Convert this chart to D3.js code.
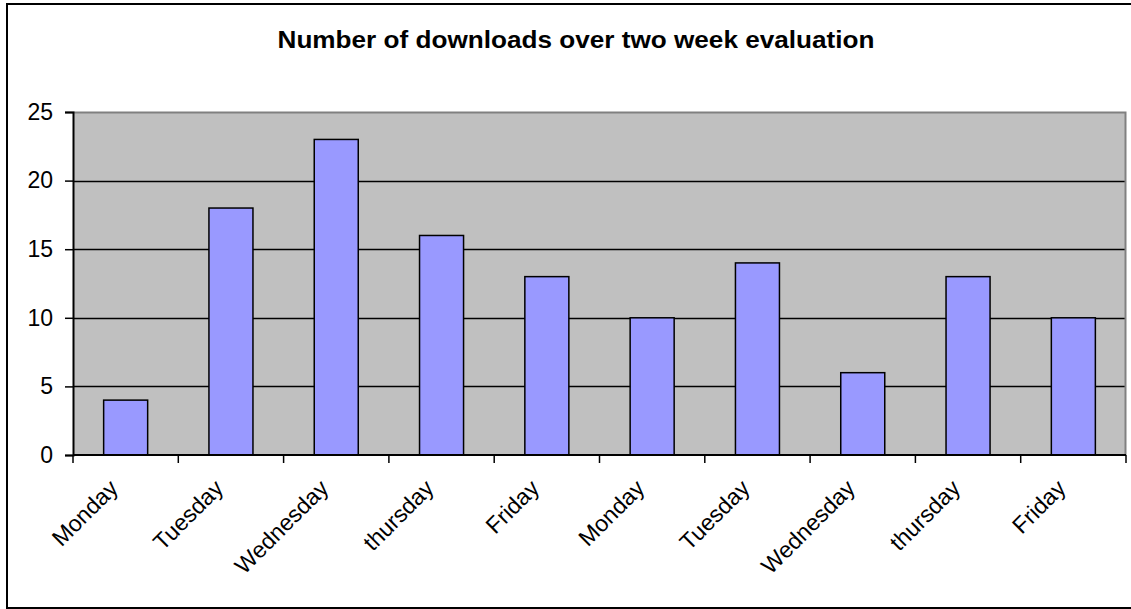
<!DOCTYPE html>
<html>
<head>
<meta charset="utf-8">
<script src="https://cdn.jsdelivr.net/npm/d3@7"></script>
<style>
  html, body { margin: 0; padding: 0; background: #fff; }
  svg { display: block; font-family: "Liberation Sans", Arial, sans-serif; }
</style>
</head>
<body>
<svg id="chart" width="1131" height="609"></svg>
<script>
// Daily download counts across the two-week evaluation
const days = ["Monday", "Tuesday", "Wednesday", "thursday", "Friday",
              "Monday", "Tuesday", "Wednesday", "thursday", "Friday"];
const downloads = [4, 18, 23, 16, 13, 10, 14, 6, 13, 10];
const yTicks = [0, 5, 10, 15, 20, 25];
const chartTitle = "Number of downloads over two week evaluation";

const svg = d3.select("#chart");
const plot = { left: 73, right: 1126, top: 112, bottom: 455 };
const labelSize = 23;

// Outer chart frame
svg.append("rect")
  .attr("x", 7).attr("y", 4)
  .attr("width", 1130).attr("height", 604)
  .attr("fill", "#fff").attr("stroke", "#000").attr("stroke-width", 2);

// Category positions: each day gets an equal slot; ticks fall on slot edges
const idx = days.map((d, i) => i);
const x = d3.scaleBand().domain(idx).range([plot.left, plot.right]).padding(0);
const y = d3.scaleLinear().domain([0, 25]).range([plot.bottom, plot.top]);

// Plot area background
svg.append("rect")
  .attr("x", plot.left).attr("y", plot.top)
  .attr("width", plot.right - plot.left).attr("height", plot.bottom - plot.top)
  .attr("fill", "#C0C0C0");

// Horizontal gridlines
svg.append("g")
  .selectAll("line")
  .data(yTicks.filter(t => t > 0 && t < 25))
  .join("line")
  .attr("x1", plot.left).attr("x2", plot.right)
  .attr("y1", d => Math.round(y(d)) + 0.5).attr("y2", d => Math.round(y(d)) + 0.5)
  .attr("stroke", "#000").attr("stroke-width", 1.4);

// Plot border on the top and right sides
svg.append("path")
  .attr("d", `M${plot.left},${plot.top + 0.5} H${plot.right - 0.5} V${plot.bottom}`)
  .attr("fill", "none").attr("stroke", "#808080").attr("stroke-width", 2);

// Bars
const barFrac = 0.418;
svg.append("g")
  .selectAll("rect")
  .data(downloads)
  .join("rect")
  .attr("x", (d, i) => x(i) + x.bandwidth() * (1 - barFrac) / 2)
  .attr("width", x.bandwidth() * barFrac)
  .attr("y", d => y(d))
  .attr("height", d => y(0) - y(d))
  .attr("fill", "#9999FF")
  .attr("stroke", "#000").attr("stroke-width", 1.5);

// Y axis
const yAxis = svg.append("g")
  .attr("transform", `translate(${plot.left},0)`)
  .call(d3.axisLeft(y).tickValues(yTicks).tickSize(8).tickPadding(12).tickFormat(d3.format("d")));
yAxis.select(".domain").attr("stroke", "#000").attr("stroke-width", 2);
yAxis.selectAll(".tick line").attr("stroke", "#000").attr("stroke-width", 1.5);
yAxis.selectAll(".tick text")
  .attr("font-size", labelSize).attr("fill", "#000")
  .attr("font-family", "Liberation Sans, Arial, sans-serif");

// X axis: tick marks at slot boundaries
const xTickPos = d3.range(days.length + 1).map(i => plot.left + i * x.step());
const xAxisG = svg.append("g");
xAxisG.append("line")
  .attr("x1", plot.left).attr("x2", plot.right)
  .attr("y1", plot.bottom).attr("y2", plot.bottom)
  .attr("stroke", "#000").attr("stroke-width", 2);
xAxisG.selectAll("line.tick")
  .data(xTickPos)
  .join("line")
  .attr("class", "tick")
  .attr("x1", d => d).attr("x2", d => d)
  .attr("y1", plot.bottom).attr("y2", plot.bottom + 8)
  .attr("stroke", "#000").attr("stroke-width", 1.5);

// Rotated day labels
xAxisG.selectAll("text")
  .data(days)
  .join("text")
  .attr("transform", (d, i) => `translate(${x(i) + x.bandwidth() / 2 - 12},${plot.bottom + 29}) rotate(-45)`)
  .attr("text-anchor", "end")
  .attr("dy", "0.35em")
  .attr("font-size", labelSize)
  .attr("fill", "#000")
  .text(d => d);

// Title
svg.append("text")
  .attr("x", 576).attr("y", 48)
  .attr("text-anchor", "middle")
  .attr("font-size", 24).attr("font-weight", "bold")
  .attr("textLength", 597).attr("lengthAdjust", "spacingAndGlyphs")
  .attr("fill", "#000")
  .text(chartTitle);
</script>
</body>
</html>
